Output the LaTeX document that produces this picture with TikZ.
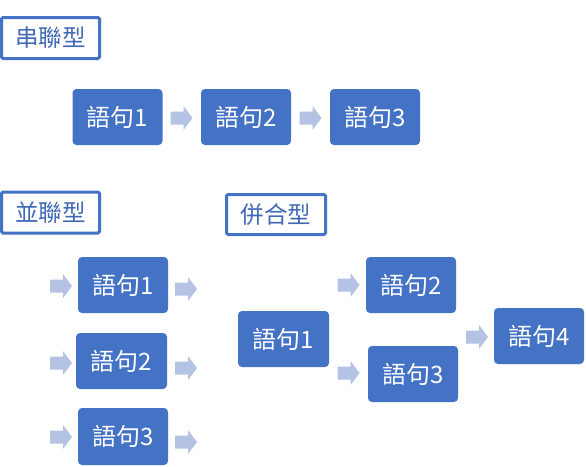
\documentclass[tikz,border=0pt]{standalone}
\usepackage{fontspec}
\setmainfont{Noto Sans CJK TC}
\definecolor{boxblue}{HTML}{4472C4}
\definecolor{arrowblue}{HTML}{B4C2E4}
\definecolor{titleblue}{HTML}{3F68B5}
\begin{document}
\begin{tikzpicture}[x=1pt,y=-1pt,
  stepbox/.style={fill=boxblue, rounded corners=4pt, minimum width=90pt, minimum height=56pt, inner sep=0pt, text=white, font=\fontsize{24}{28}\selectfont},
  titlebox/.style={draw=boxblue, line width=3pt, rounded corners=1.5pt, fill=white, minimum width=98pt, minimum height=41pt, inner sep=0pt, text=titleblue, font=\fontsize{23.5}{28}\selectfont},
  pics/blockarrow/.style={code={\fill[arrowblue] (-11,-6.5) -- (2,-6.5) -- (2,-12) -- (11,0) -- (2,12) -- (2,6.5) -- (-11,6.5) -- cycle;}}
]
\useasboundingbox[fill=white] (0,0) rectangle (586,466);
% series
\node[titlebox] (t1) at (50.5,38) {串聯型};
\node[stepbox] (s1) at (117.5,117) {語句1};
\node[stepbox] (s2) at (246,117) {語句2};
\node[stepbox] (s3) at (375,117) {語句3};
\pic (sa1) at (181.5,118) {blockarrow};
\pic (sa2) at (310.5,118) {blockarrow};
% parallel
\node[titlebox] (t2) at (50.5,212.5) {並聯型};
\node[stepbox] (p1) at (123,285) {語句1};
\node[stepbox, minimum width=91pt] (p2) at (121.5,361) {語句2};
\node[stepbox, minimum height=57pt] (p3) at (123,436.5) {語句3};
\pic (pl1) at (61,286) {blockarrow};
\pic (pl2) at (61,363) {blockarrow};
\pic (pl3) at (61,437) {blockarrow};
\pic (pr1) at (186,289) {blockarrow};
\pic (pr2) at (186,368) {blockarrow};
\pic (pr3) at (186,442) {blockarrow};
% merge
\node[titlebox, minimum width=99pt, minimum height=40pt] (t3) at (276,214.5) {併合型};
\node[stepbox, minimum width=91pt] (m1) at (283.5,339) {語句1};
\node[stepbox] (m2) at (411,285) {語句2};
\node[stepbox] (m3) at (413,374) {語句3};
\node[stepbox] (m4) at (539,336) {語句4};
\pic (ma2) at (348.5,285) {blockarrow};
\pic (ma3) at (348.5,373) {blockarrow};
\pic (ma4) at (477,337) {blockarrow};
\end{tikzpicture}
\end{document}
